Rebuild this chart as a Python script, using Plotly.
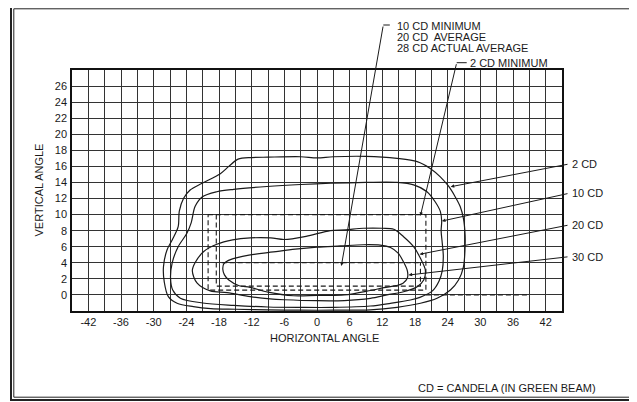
import plotly.graph_objects as go

# ---------------- data ----------------
x_grid_vals = [-42, -39, -36, -33, -30, -27, -24, -21, -18, -15, -12, -9, -6, -3, 0,
               3, 6, 9, 12, 15, 18, 21, 24, 27, 30, 33, 36, 39, 42]
x_tick_labels = ["-42", "", "-36", "", "-30", "", "-24", "", "-18", "", "-12", "", "-6", "", "0",
                 "", "6", "", "12", "", "18", "", "24", "", "30", "", "36", "", "42"]
y_tick_vals = [0, 2, 4, 6, 8, 10, 12, 14, 16, 18, 20, 22, 24, 26]
y_tick_labels = ["0", "2", "4", "6", "8", "10", "12", "14", "16", "18", "20", "22", "24", "26"]

# 2 CD contour
cd2_x = [-12, -9, -3, 0, 3, 9, 14.7, 18.4, 20.8, 22.65, 24.2, 25.4, 26.3, 26.9, 27.2, 27.2,
         26.9, 26.0, 24.5, 22.05, 19.0, 14.7, 9.8, 3, -3, -9, -15, -19.5, -22.7, -25.7, -27.3,
         -28.05, -28.2, -27.55, -26.6, -25.5, -25.3, -24.5, -23.3, -21.1, -17.75, -16.2, -14.5, -12]
cd2_y = [17.1, 17.15, 17.2, 17.05, 17.2, 17.25, 17.0, 16.6, 15.75, 14.7, 13.5, 12.2, 11.0, 9.5, 7.5, 6.0,
         3.5, 1.86, 0.61, -0.42, -1.04, -1.54, -1.85, -1.9, -1.9, -1.85, -1.78, -1.7, -1.46, -1.04, -0.22,
         1.6, 3.5, 5.6, 6.84, 8.5, 10.4, 12.03, 13.06, 13.9, 15.1, 16.0, 16.9, 17.1]

# 10 CD contour
cd10_x = [-21.1, -18.4, -15.3, -9.2, -3, 2.45, 9, 14.7, 17.75, 20.2, 21.7, 22.65, 22.9, 22.8, 23.0,
          23.2, 23.0, 22.4, 21.2, 18.9, 17.15, 13.5, 9.8, 3, -3, -9, -15.3, -21.0, -25.1, -26.5,
          -26.9, -26.6, -25.5, -23.9, -23.1, -22.4, -21.1]
cd10_y = [12.2, 12.85, 13.15, 13.5, 13.75, 13.9, 14.0, 14.0, 13.7, 12.85, 11.6, 10.4, 9.2, 8.0, 6.5,
          4.8, 3.0, 1.7, 0.5, -0.3, -0.63, -1.04, -1.38, -1.55, -1.55, -1.5, -1.3, -1.0, -0.4, 0.61,
          2.1, 4.0, 6.0, 7.67, 9.0, 11.0, 12.2]

# 20 CD contour
cd20_x = [-22.9, -22.4, -20.8, -18.4, -15.5, -12.25, -8.5, -6, -2, 2.45, 5.25, 8.5, 12, 14.1, 15.9,
          17.75, 19.0, 19.9, 19.6, 18.4, 15.9, 12.85, 9.8, 5, 0, -6, -8.57, -12.25, -16.5, -19.6,
          -22.05, -22.9]
cd20_y = [3.0, 4.0, 5.4, 6.3, 6.85, 7.1, 7.1, 6.9, 7.3, 8.0, 8.1, 8.3, 8.3, 8.17, 7.25,
          6.0, 4.56, 3.1, 1.86, 1.03, 0.4, 0.0, -0.42, -0.7, -0.72, -0.6, -0.5, -0.22, 0.28, 0.5,
          1.5, 3.0]

# 30 CD contour
cd30_x = [-17.3, -17.1, -15.9, -12.5, -8, -4, 0, 4.3, 8.5, 11.6, 13.5, 14.9, 15.9, 16.6, 16.6,
          15.8, 14.5, 12.3, 9.8, 5, 0, -4.3, -9, -12.3, -14.3, -16.2, -17.0, -17.3]
cd30_y = [3.2, 3.9, 4.4, 4.95, 5.35, 5.7, 5.95, 6.1, 6.25, 6.2, 5.9, 5.2, 4.1, 3.0, 2.1,
          1.45, 1.15, 0.9, 0.55, 0.0, -0.05, -0.1, 0.35, 0.95, 1.15, 1.86, 2.5, 3.2]

# dashed requirement boxes
box_outer_x = [-20, 20, 20, -20, -20]
box_outer_y = [10, 10, 0.6, 0.6, 10]
box_inner_x = [-18.5, -18.5, 19, 19]
box_inner_y = [10, 1.1, 1.1, 4]
line4_x = [-17.5, 19]
line4_y = [4, 4]
line0_x = [20, 39]
line0_y = [0, 0]

# leader targets (head on chart, data units) and labels
leader_labels = ["2 CD", "10 CD", "20 CD", "30 CD"]
leader_head_x = [24.56, 22.96, 18.85, 16.83]
leader_head_y = [13.47, 9.2, 5.06, 2.48]
leader_label_py = [164, 193.3, 225, 256.7]   # screen rows of right labels

min_head_x = [4.47, 19.0]
min_head_y = [3.6, 9.86]

# ---------------- geometry helpers (screen pixels) ----------------
OFF = 8                     # page body margin of the html page
SW, SH = 637, 402           # screen size
W, H = SW - OFF, SH - OFF   # figure size
PL, PT, PW, PH = 72, 70, 490, 241   # plot area in screen pixels
L, T = PL - OFF, PT - OFF
R, B = W - L - PW, H - T - PH
XR = (-45, 45)
YR = (-2, 28)


def px2paper_x(px):
    return (px - PL) / PW


def py2paper_y(py):
    return (PT + PH - py) / PH


def px2data_x(px):
    return XR[0] + (px - PL) / PW * (XR[1] - XR[0])


def py2data_y(py):
    return YR[1] - (py - PT) / PH * (YR[1] - YR[0])


INK = "#1a1a1a"
FONT = "Liberation Sans, Arial, sans-serif"

fig = go.Figure()

for cx, cy in [(cd2_x, cd2_y), (cd10_x, cd10_y), (cd20_x, cd20_y), (cd30_x, cd30_y)]:
    fig.add_trace(go.Scatter(x=cx, y=cy, mode="lines",
                             line=dict(color=INK, width=1.2, shape="spline", smoothing=0.9),
                             hoverinfo="skip", showlegend=False))

for dx, dy in [(box_outer_x, box_outer_y), (box_inner_x, box_inner_y),
               (line4_x, line4_y), (line0_x, line0_y)]:
    fig.add_trace(go.Scatter(x=dx, y=dy, mode="lines",
                             line=dict(color=INK, width=1.1, dash="5px,3px"),
                             hoverinfo="skip", showlegend=False))

annotations = []
shapes = []

# right-side leader labels
for lab, hx, hy, py in zip(leader_labels, leader_head_x, leader_head_y, leader_label_py):
    tail_px = 569
    annotations.append(dict(x=hx, y=hy, xref="x", yref="y", ax=px2data_x(tail_px), ay=py2data_y(py),
                            axref="x", ayref="y", text="", showarrow=True, arrowhead=2,
                            arrowsize=0.7, arrowwidth=1, arrowcolor=INK, standoff=0))
    annotations.append(dict(x=px2paper_x(tail_px + 1), y=py2paper_y(py), xref="paper", yref="paper",
                            text=lab, showarrow=False, xanchor="left", yanchor="middle",
                            font=dict(family=FONT, size=11, color=INK)))

# top leaders: 10 CD minimum ... and 2 CD minimum
corner1 = (383.3, 25)
corner2 = (456.7, 62.7)
for (hx, hy), (cpx, cpy), stub in zip(zip(min_head_x, min_head_y), [corner1, corner2], [6.5, 10]):
    annotations.append(dict(x=hx, y=hy, xref="x", yref="y", ax=px2data_x(cpx), ay=py2data_y(cpy),
                            axref="x", ayref="y", text="", showarrow=True, arrowhead=2,
                            arrowsize=0.7, arrowwidth=1, arrowcolor=INK, standoff=0))
    shapes.append(dict(type="line", xref="paper", yref="paper",
                       x0=px2paper_x(cpx), x1=px2paper_x(cpx + stub),
                       y0=py2paper_y(cpy), y1=py2paper_y(cpy), line=dict(color=INK, width=1)))

top_lines = ["10 CD MINIMUM", "20 CD\u00a0 AVERAGE", "28 CD ACTUAL AVERAGE"]
top_py = [25.5, 36.5, 47.5]
for txt, py in zip(top_lines, top_py):
    annotations.append(dict(x=px2paper_x(395), y=py2paper_y(py), xref="paper", yref="paper",
                            text=txt, showarrow=False, xanchor="left", yanchor="middle",
                            font=dict(family=FONT, size=11, color=INK)))
annotations.append(dict(x=px2paper_x(467.5), y=py2paper_y(62.7), xref="paper", yref="paper",
                        text="2 CD MINIMUM", showarrow=False, xanchor="left", yanchor="middle",
                        font=dict(family=FONT, size=11, color=INK)))

# axis titles and footnote
annotations.append(dict(x=px2paper_x(324), y=py2paper_y(338), xref="paper", yref="paper",
                        text="HORIZONTAL ANGLE", showarrow=False, xanchor="center", yanchor="middle",
                        font=dict(family=FONT, size=11, color=INK)))
annotations.append(dict(x=px2paper_x(38), y=py2paper_y(190.5), xref="paper", yref="paper",
                        text="VERTICAL ANGLE", showarrow=False, textangle=-90,
                        xanchor="center", yanchor="middle",
                        font=dict(family=FONT, size=11, color=INK)))
annotations.append(dict(x=px2paper_x(507), y=py2paper_y(387.5), xref="paper", yref="paper",
                        text="CD = CANDELA (IN GREEN BEAM)", showarrow=False,
                        xanchor="center", yanchor="middle",
                        font=dict(family=FONT, size=11, color=INK)))

# double frame around the figure
for (x0, y0, x1, y1, w) in [(11, 6, 634, 400, 2), (13.8, 8.8, 631.2, 397.2, 1)]:
    shapes.append(dict(type="rect", xref="paper", yref="paper",
                       x0=px2paper_x(x0), x1=px2paper_x(x1), y0=py2paper_y(y1), y1=py2paper_y(y0),
                       line=dict(color="#222", width=w), fillcolor="rgba(0,0,0,0)", layer="above"))

fig.update_layout(
    width=W, height=H,
    margin=dict(l=L, r=R, t=T, b=B, pad=0),
    paper_bgcolor="white", plot_bgcolor="white",
    font=dict(family=FONT, size=11, color=INK),
    showlegend=False,
    annotations=annotations,
    shapes=shapes,
    xaxis=dict(range=list(XR), tickvals=x_grid_vals, ticktext=x_tick_labels, ticks="",
               showgrid=True, gridcolor="#333", gridwidth=1, zeroline=False,
               showline=True, mirror=True, linecolor="#111", linewidth=1.5,
               tickfont=dict(family=FONT, size=11, color=INK), fixedrange=True),
    yaxis=dict(range=list(YR), tickvals=y_tick_vals, ticktext=y_tick_labels, ticks="",
               showgrid=True, gridcolor="#333", gridwidth=1, zeroline=False,
               showline=True, mirror=True, linecolor="#111", linewidth=1.5,
               ticklabelstandoff=1,
               tickfont=dict(family=FONT, size=11, color=INK), fixedrange=True),
)

fig.write_html("out.html")
